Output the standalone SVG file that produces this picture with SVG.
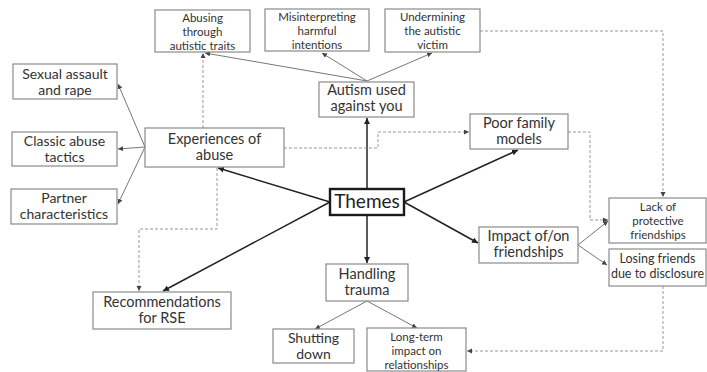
<svg xmlns="http://www.w3.org/2000/svg" width="707" height="372" viewBox="0 0 707 372">
<style>
.box{fill:#fff;stroke:#8a8a8a;stroke-width:1.2}
.main{fill:#fff;stroke:#1a1a1a;stroke-width:2.4}
text{font-family:Lato,"Open Sans","Liberation Sans",sans-serif;fill:#333;text-anchor:middle}
.t15{font-size:14.5px}
.t14{font-size:14px}
.t13{font-size:12.5px}
.t12{font-size:11.5px}
.t19{font-size:19px;fill:#222}
.dark{stroke:#222;stroke-width:1.5;fill:none;marker-end:url(#ad)}
.thin{stroke:#777;stroke-width:1;fill:none;marker-end:url(#ag)}
.dash{stroke:#9a9a9a;stroke-width:1;stroke-dasharray:3 2;fill:none;marker-end:url(#ag)}
</style>
<defs>
<marker id="ad" markerUnits="userSpaceOnUse" markerWidth="7" markerHeight="7" refX="6" refY="3" orient="auto"><path d="M0,0 L6,3 L0,6 z" fill="#222"/></marker>
<marker id="ag" markerUnits="userSpaceOnUse" markerWidth="6" markerHeight="6" refX="5" refY="2.5" orient="auto"><path d="M0,0 L5,2.5 L0,5 z" fill="#444"/></marker>
</defs>
<rect width="707" height="372" fill="#fff"/>
<g id="connectors">
<path class="dark" d="M367,189 L367,118"/>
<path class="dark" d="M330,202 L218,168"/>
<path class="dark" d="M330,202 L163,291"/>
<path class="dark" d="M404,202 L518,150"/>
<path class="dark" d="M404,202 L478,243"/>
<path class="dark" d="M367,215 L367,263"/>
<path class="thin" d="M367,81 L205,53"/>
<path class="thin" d="M367,81 L322,53"/>
<path class="thin" d="M367,81 L432,53"/>
<path class="thin" d="M145,147 L118,84"/>
<path class="thin" d="M145,147 L118,149"/>
<path class="thin" d="M145,147 L118,204"/>
<path class="thin" d="M578,245 L608,221"/>
<path class="thin" d="M578,245 L607,265"/>
<path class="thin" d="M367,301 L315,329"/>
<path class="thin" d="M367,301 L417,328"/>
<path class="dash" d="M203,128 L203,53"/>
<path class="dash" d="M284,148 L378,148 L378,132 L469,132"/>
<path class="dash" d="M568,132 L590,132 L590,220 L608,220"/>
<path class="dash" d="M480,31 L663,31 L663,197"/>
<path class="dash" d="M663,286 L663,351 L467,351"/>
<path class="dash" d="M217,168 L217,229 L139,229 L139,291"/>
</g>
<g id="n-abusing"><rect class="box" x="155" y="10" width="95" height="42"/><text class="t12" x="202.5" y="21.5">Abusing</text><text class="t12" x="202.5" y="35.5">through</text><text class="t12" x="202.5" y="49.5">autistic traits</text></g>
<g id="n-misinterpreting"><rect class="box" x="265" y="9" width="104" height="42"/><text class="t12" x="317" y="20.5">Misinterpreting</text><text class="t12" x="317" y="34.5">harmful</text><text class="t12" x="317" y="48.5">intentions</text></g>
<g id="n-undermining"><rect class="box" x="385" y="9" width="95" height="43"/><text class="t12" x="432.5" y="21">Undermining</text><text class="t12" x="432.5" y="35">the autistic</text><text class="t12" x="432.5" y="49">victim</text></g>
<g id="n-autism"><rect class="box" x="319" y="82" width="95" height="35"/><text class="t15" x="366.5" y="95">Autism used</text><text class="t15" x="366.5" y="111">against you</text></g>
<g id="n-sexual"><rect class="box" x="13" y="64" width="104" height="35"/><text class="t14" x="65" y="78.5">Sexual assault</text><text class="t14" x="65" y="94.5">and rape</text></g>
<g id="n-classic"><rect class="box" x="12" y="132" width="105" height="34"/><text class="t14" x="64.5" y="146">Classic abuse</text><text class="t14" x="64.5" y="162">tactics</text></g>
<g id="n-partner"><rect class="box" x="11" y="189" width="106" height="35"/><text class="t14" x="64" y="202.5">Partner</text><text class="t14" x="64" y="218.5">characteristics</text></g>
<g id="n-experiences"><rect class="box" x="145" y="128" width="139" height="39"/><text class="t15" x="214.5" y="144">Experiences of</text><text class="t15" x="214.5" y="160">abuse</text></g>
<g id="n-themes"><rect class="main" x="330" y="189" width="74" height="26"/><text class="t19" x="367" y="208">Themes</text></g>
<g id="n-poorfamily"><rect class="box" x="470" y="114" width="98" height="35"/><text class="t15" x="519" y="128">Poor family</text><text class="t15" x="519" y="144">models</text></g>
<g id="n-lack"><rect class="box" x="609" y="198" width="97" height="45"/><text class="t12" x="658" y="211">Lack of</text><text class="t12" x="658" y="225">protective</text><text class="t12" x="658" y="239">friendships</text></g>
<g id="n-losing"><rect class="box" x="609" y="249" width="97" height="37"/><text class="t13" x="657.5" y="262.5">Losing friends</text><text class="t13" x="657.5" y="277.5">due to disclosure</text></g>
<g id="n-impact"><rect class="box" x="479" y="227" width="99" height="36"/><text class="t15" x="528.5" y="241">Impact of/on</text><text class="t15" x="528.5" y="257">friendships</text></g>
<g id="n-handling"><rect class="box" x="326" y="264" width="82" height="37"/><text class="t15" x="367" y="278.5">Handling</text><text class="t15" x="367" y="294.5">trauma</text></g>
<g id="n-recommendations"><rect class="box" x="93" y="292" width="138" height="37"/><text class="t15" x="162" y="306.5">Recommendations</text><text class="t15" x="162" y="322.5">for RSE</text></g>
<g id="n-shutting"><rect class="box" x="273" y="329" width="81" height="34"/><text class="t14" x="313.5" y="342.5">Shutting</text><text class="t14" x="313.5" y="358.5">down</text></g>
<g id="n-longterm"><rect class="box" x="367" y="328" width="99" height="43"/><text class="t12" x="416.5" y="340.5">Long-term</text><text class="t12" x="416.5" y="354.5">impact on</text><text class="t12" x="416.5" y="368.5">relationships</text></g>
</svg>
